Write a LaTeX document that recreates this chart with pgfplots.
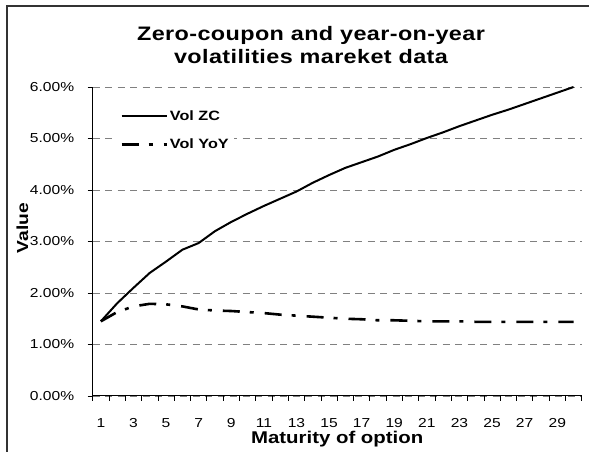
\documentclass[border=0pt]{standalone}
\usepackage{fontspec}
\setmainfont{Liberation Sans}[FakeStretch=1.2]
\usepackage{pgfplots}
\usepackage{pgfplotstable}
\pgfplotsset{compat=1.18}

% maturity, zero-coupon vol (%), year-on-year vol (%)
\pgfplotstableread{
m zc yoy
1 1.45 1.45
2 1.80 1.63
3 2.10 1.74
4 2.39 1.79
5 2.61 1.78
6 2.84 1.74
7 2.97 1.68
8 3.20 1.66
9 3.38 1.65
10 3.54 1.63
11 3.69 1.61
12 3.83 1.58
13 3.97 1.56
14 4.14 1.54
15 4.29 1.52
16 4.43 1.50
17 4.54 1.49
18 4.65 1.47
19 4.78 1.47
20 4.89 1.46
21 5.01 1.45
22 5.12 1.45
23 5.24 1.45
24 5.35 1.44
25 5.46 1.44
26 5.56 1.44
27 5.67 1.44
28 5.78 1.44
29 5.89 1.44
30 6.00 1.44
}\voldata

\begin{document}
\begin{tikzpicture}[x=1pt,y=1pt]
% chart frame (right and bottom edges fall outside the picture)
\draw[line width=1.6pt, black!80] (7pt,0pt) -- (7pt,446pt) -- (589pt,446pt);

\node[align=center, font=\bfseries\fontsize{19.5}{22.5}\selectfont\addfontfeatures{LetterSpace=2}]
  at (311pt,407pt) {Zero-coupon and year-on-year\\volatilities mareket data};

\begin{axis}[
  at={(92.7pt,56pt)}, anchor=origin,
  scale only axis, width=489pt, height=309pt,
  xmin=0.5, xmax=30.5, ymin=0, ymax=6,
  axis x line=bottom, axis y line=left,
  axis line style={line width=1pt, -},
  tick align=outside,
  major tick length=5pt, minor tick length=5pt,
  every tick/.style={black, line width=0.8pt},
  xtick={1,3,...,29},
  xticklabels={1,3,5,7,9,11,13,15,17,19,21,23,25,27,29},
  major x tick style={draw=none},
  minor xtick={0.5,1.5,...,30.5},
  xticklabel style={font=\fontsize{13}{15}\selectfont, anchor=base, yshift=-27pt},
  ytick={0,1,...,6},
  yticklabels={0.00\%,1.00\%,2.00\%,3.00\%,4.00\%,5.00\%,6.00\%},
  yticklabel style={font=\fontsize{13}{15}\selectfont, anchor=east, xshift=-10pt},
  ymajorgrids,
  grid style={gray, line width=0.8pt, dash pattern=on 7pt off 5.5pt},
  xlabel={Maturity of option},
  xlabel style={font=\bfseries\fontsize{17}{19}\selectfont,
    at={(rel axis cs:0.5,0)}, anchor=base, yshift=-48pt},
  clip=false,
  legend style={draw=none, fill=white, at={(rel axis cs:0.05,0.94)},
    anchor=north west, font=\bfseries\fontsize{13.5}{15}\selectfont,
    row sep=13pt, inner sep=3pt},
  legend cell align=left,
  legend image code/.code={\draw[#1] (0pt,0pt) -- (45pt,0pt);},
]
\addplot[black, line width=2pt] table[x=m, y=zc] {\voldata};
\addplot[black, line width=2.6pt, dash pattern=on 17pt off 10pt on 4pt off 11pt]
  table[x=m, y=yoy] {\voldata};
\legend{Vol ZC, Vol YoY}
\end{axis}

\node[rotate=90, font=\bfseries\fontsize{16}{18}\selectfont] at (22.5pt,224pt) {Value};
\pgfresetboundingbox
\useasboundingbox (0pt,0pt) rectangle (589pt,452pt);
\end{tikzpicture}
\end{document}
